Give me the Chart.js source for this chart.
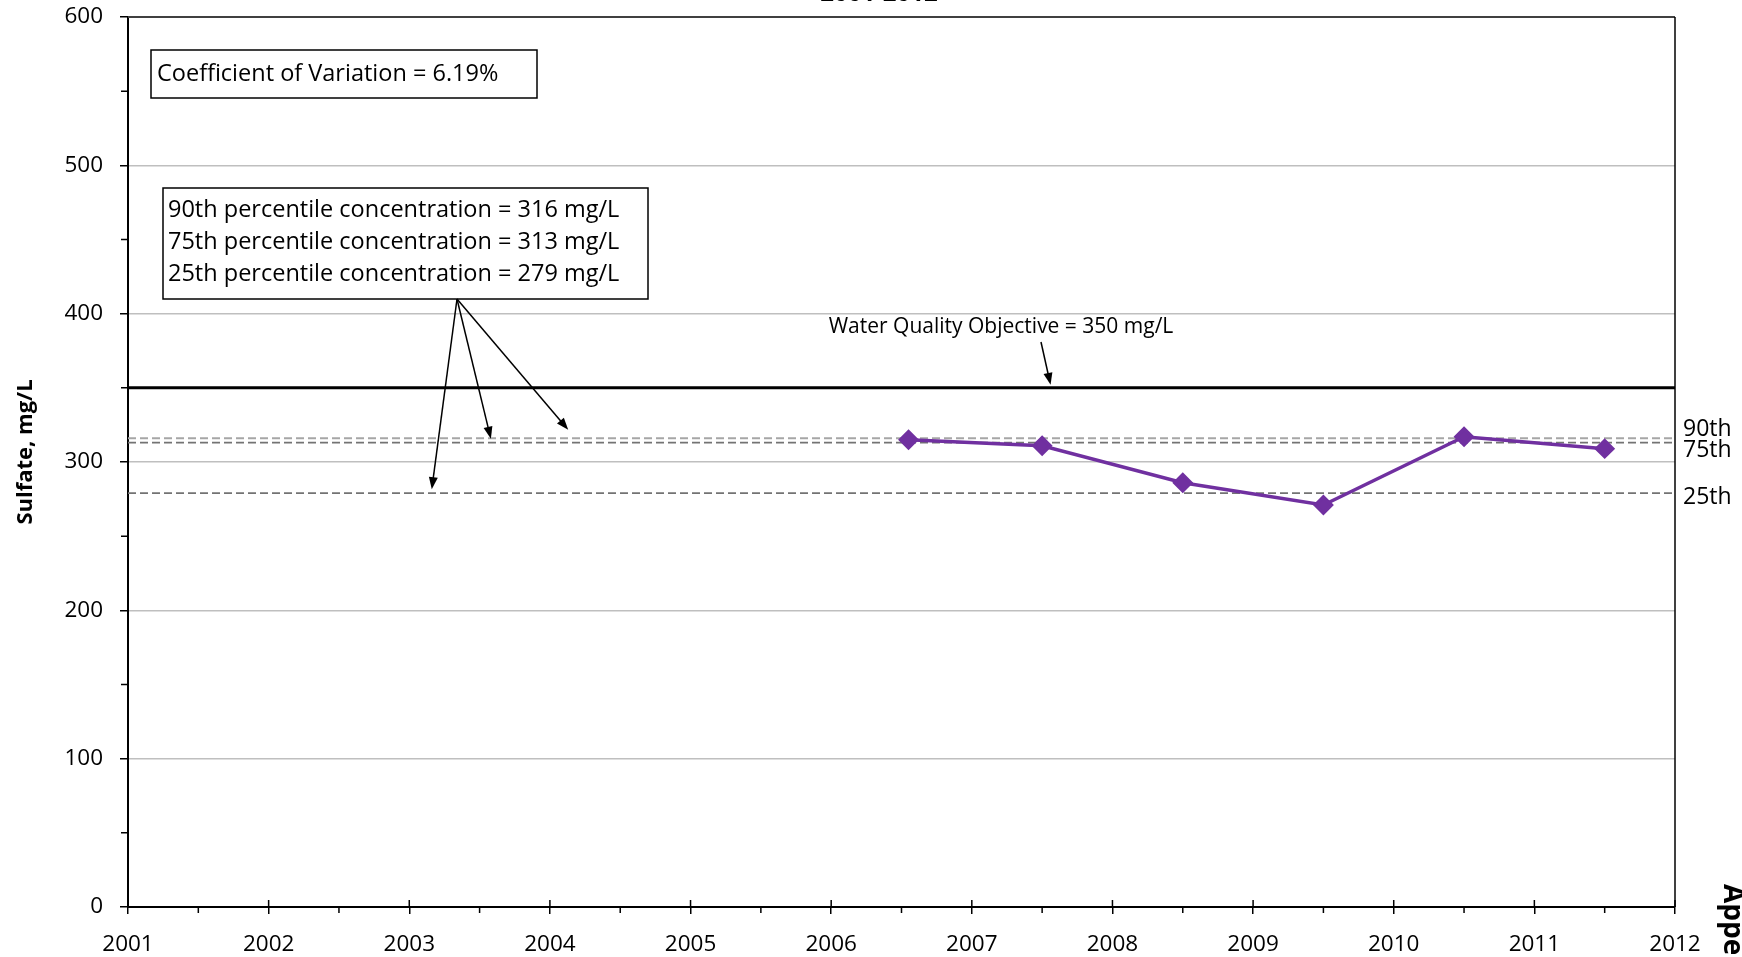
<!DOCTYPE html>
<html>
<head>
<meta charset="utf-8">
<script src="https://cdn.jsdelivr.net/npm/chart.js@4/dist/chart.umd.min.js"></script>
<style>
  html, body { margin: 0; padding: 0; background: #fff; overflow: hidden; }
</style>
</head>
<body>
<canvas id="myChart" width="1742" height="957"></canvas>
<script>
// sulfate data, 2001-2012
var years = [2006.55, 2007.5, 2008.5, 2009.5, 2010.5, 2011.5];
var sulfate = [315, 311, 286, 271, 317, 309];

var xMin = 2001, xMax = 2012;
var yMin = 0, yMax = 600;

var objective = 350;
var pctNames = ["90th", "75th", "25th"];
var pctValues = [316, 313, 279];
var pctColors = ["#a6a6a6", "#737373", "#737373"];

var FONT = "'Open Sans', sans-serif";

function flatLine(v) {
  return [{x: xMin, y: v}, {x: xMax, y: v}];
}

var datasets = [{
  data: years.map(function (yr, i) { return {x: yr, y: sulfate[i]}; }),
  borderColor: "#7030a0",
  backgroundColor: "#7030a0",
  borderWidth: 3.5,
  pointStyle: "rectRot",
  pointRadius: 8,
  pointHoverRadius: 8
}, {
  data: flatLine(objective),
  borderColor: "#000",
  borderWidth: 3,
  pointRadius: 0
}];
pctValues.forEach(function (v, i) {
  datasets.push({
    data: flatLine(v),
    borderColor: pctColors[i],
    borderWidth: 1.8,
    borderDash: [8, 4],
    pointRadius: 0
  });
});

function arrow(ctx, x1, y1, x2, y2) {
  var ang = Math.atan2(y2 - y1, x2 - x1);
  var len = 12, w = 4.5;
  ctx.beginPath();
  ctx.moveTo(x1, y1);
  ctx.lineTo(x2 - Math.cos(ang) * len * 0.8, y2 - Math.sin(ang) * len * 0.8);
  ctx.stroke();
  ctx.beginPath();
  ctx.moveTo(x2, y2);
  ctx.lineTo(x2 - Math.cos(ang) * len - Math.sin(ang) * w, y2 - Math.sin(ang) * len + Math.cos(ang) * w);
  ctx.lineTo(x2 - Math.cos(ang) * len + Math.sin(ang) * w, y2 - Math.sin(ang) * len - Math.cos(ang) * w);
  ctx.closePath();
  ctx.fill();
}

var extras = {
  id: "extras",
  afterDraw: function (chart) {
    var ctx = chart.ctx, a = chart.chartArea;
    var xs = chart.scales.x, ys = chart.scales.y;
    ctx.save();

    // frame top and right
    ctx.strokeStyle = "#404040";
    ctx.lineWidth = 2;
    ctx.beginPath();
    ctx.moveTo(a.left, a.top);
    ctx.lineTo(a.right, a.top);
    ctx.stroke();
    ctx.strokeStyle = "#000";
    ctx.lineWidth = 1.5;
    ctx.beginPath();
    ctx.moveTo(a.right, a.top);
    ctx.lineTo(a.right, a.bottom);
    ctx.stroke();

    // minor ticks
    ctx.lineWidth = 1.5;
    ctx.beginPath();
    for (var yr = xMin; yr <= xMax; yr++) {
      var px = xs.getPixelForValue(yr);
      ctx.moveTo(px, a.bottom - 7);
      ctx.lineTo(px, a.bottom);
      if (yr < xMax) {
        var hx = xs.getPixelForValue(yr + 0.5);
        ctx.moveTo(hx, a.bottom);
        ctx.lineTo(hx, a.bottom + 6);
      }
    }
    for (var v = yMin + 50; v < yMax; v += 100) {
      var py = ys.getPixelForValue(v);
      ctx.moveTo(a.left - 7, py);
      ctx.lineTo(a.left, py);
    }
    ctx.stroke();

    // title (cut off at top)
    ctx.fillStyle = "#000";
    ctx.font = "bold 24px " + FONT;
    ctx.textAlign = "center";
    ctx.textBaseline = "alphabetic";
    ctx.fillText("2001-2012", 879, 1);

    // y axis title
    ctx.save();
    ctx.translate(26, 452);
    ctx.rotate(-Math.PI / 2);
    ctx.font = "bold 22px " + FONT;
    ctx.textBaseline = "middle";
    ctx.fillText("Sulfate, mg/L", 0, 0);
    ctx.restore();

    // cut-off side label
    ctx.save();
    ctx.translate(1724, 884);
    ctx.rotate(Math.PI / 2);
    ctx.font = "bold 28px " + FONT;
    ctx.textAlign = "left";
    ctx.textBaseline = "alphabetic";
    ctx.fillText("Appendix", 0, 0);
    ctx.restore();

    // coefficient box
    ctx.lineWidth = 1.5;
    ctx.strokeStyle = "#000";
    ctx.fillStyle = "#fff";
    ctx.fillRect(151, 50, 386, 48);
    ctx.strokeRect(151, 50, 386, 48);
    ctx.fillStyle = "#000";
    ctx.font = "23.5px " + FONT;
    ctx.textAlign = "left";
    ctx.textBaseline = "middle";
    ctx.fillText("Coefficient of Variation = 6.19%", 157, 74);

    // percentile box
    ctx.fillStyle = "#fff";
    ctx.fillRect(163, 188, 485, 111);
    ctx.strokeRect(163, 188, 485, 111);
    ctx.fillStyle = "#000";
    var lines = pctNames.map(function (n, i) {
      return n + " percentile concentration = " + pctValues[i] + " mg/L";
    });
    lines.forEach(function (t, i) {
      ctx.fillText(t, 168, 210 + i * 32);
    });

    // percentile arrows
    ctx.fillStyle = "#000";
    ctx.lineWidth = 1.5;
    var sx = 457, sy = 299;
    var tips = [[2004.13, pctValues[0] + 3], [2003.58, pctValues[1]], [2003.16, pctValues[2]]];
    tips.forEach(function (t) {
      arrow(ctx, sx, sy, xs.getPixelForValue(t[0]), ys.getPixelForValue(t[1]) - 4);
    });

    // objective label and arrow
    ctx.font = "21px " + FONT;
    ctx.textAlign = "center";
    ctx.fillText("Water Quality Objective = " + objective + " mg/L", 1001, 327);
    arrow(ctx, 1041, 342, xs.getPixelForValue(2007.56), ys.getPixelForValue(objective) - 3);

    // percentile labels at right
    ctx.font = "23px " + FONT;
    ctx.textAlign = "left";
    ctx.fillText(pctNames[0], 1683, 429);
    ctx.fillText(pctNames[1], 1683, 450);
    ctx.fillText(pctNames[2], 1683, 497);

    ctx.restore();
  }
};

new Chart("myChart", {
  type: "line",
  data: { datasets: datasets },
  plugins: [extras],
  options: {
    responsive: false,
    animation: false,
    devicePixelRatio: 1,
    layout: { padding: { left: 0, right: 67, top: 17, bottom: 0 } },
    plugins: {
      legend: { display: false },
      tooltip: { enabled: false }
    },
    scales: {
      x: {
        type: "linear",
        min: xMin,
        max: xMax,
        afterFit: function (s) {
          s.height = 50;
          s.paddingLeft = 0; s.paddingRight = 0;
        },
        ticks: {
          stepSize: 1,
          color: "#000",
          font: { family: FONT, size: 22.5 },
          padding: 17,
          maxRotation: 0,
          callback: function (v) { return String(v); }
        },
        grid: { drawOnChartArea: false, color: "#000", tickLength: 7, lineWidth: 1.5 },
        border: { color: "#000", width: 2 }
      },
      y: {
        min: yMin,
        max: yMax,
        afterFit: function (s) {
          s.width = 128;
          s.paddingTop = 0; s.paddingBottom = 0;
        },
        ticks: {
          stepSize: 100,
          color: "#000",
          font: { family: FONT, size: 22.5 },
          padding: 17
        },
        grid: { color: "#bfbfbf", tickColor: "#000", tickLength: 8, lineWidth: 1.5 },
        border: { color: "#000", width: 2 }
      }
    }
  }
});
</script>
</body>
</html>
